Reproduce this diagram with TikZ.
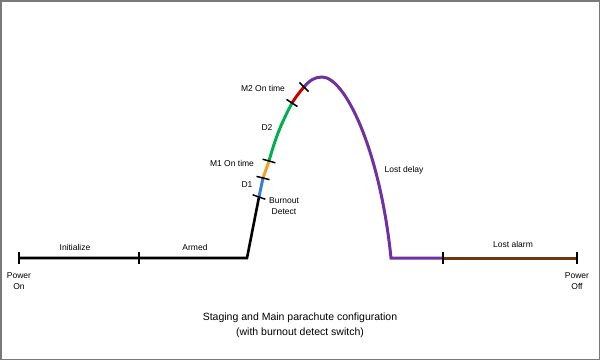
\documentclass[tikz,border=0pt]{standalone}
\usepackage{fontspec}
\setmainfont{Liberation Sans}
\begin{document}
\begin{tikzpicture}[x=1pt,y=-1pt,
  lbl/.style={inner sep=0pt,align=center,font=\fontsize{8.5}{11}\selectfont},
  ttl/.style={inner sep=0pt,align=center,font=\fontsize{10.5}{15}\selectfont},
  seg/.style={line width=3pt,line cap=butt},
  tick/.style={line width=1.5pt,black}]
\useasboundingbox (0,0) rectangle (600,360);
\draw[line width=1.5pt,gray!95!black] (0.75,0.75) rectangle (599.25,359.25);
\definecolor{cblue}{HTML}{3A7FD5}
\definecolor{corange}{HTML}{F5A020}
\definecolor{cgreen}{HTML}{00B050}
\definecolor{cred}{HTML}{D00000}
\definecolor{cpurple}{HTML}{7030A0}
\definecolor{cbrown}{HTML}{6B3A10}
% points
\coordinate (on) at (19,258);
\coordinate (arm) at (139,258);
\coordinate (lift) at (247,258);
\coordinate (bo) at (259,197);
\coordinate (d1) at (263,178);
\coordinate (m1) at (269,161);
\coordinate (d2) at (292,103);
\coordinate (m2) at (304,87);
\coordinate (pk) at (322,77);
\coordinate (ld) at (391,258);
\coordinate (la) at (443,258);
\coordinate (off) at (577,258);
% segments
\draw[seg,black,line width=2.6pt] (on) -- (arm) -- (lift) -- (bo);
\draw[seg,cblue] (bo) -- (d1);
\draw[seg,corange] (d1) -- (m1);
\draw[seg,cgreen] (m1) to[bend left=6] (d2);
\draw[seg,cred] (d2) to[bend left=4] (m2);
\draw[seg,cpurple] (m2) .. controls (310,80) and (315,77) .. (pk)
  .. controls (345,77) and (380,150) .. (ld) -- (la);
\draw[seg,cbrown] (la) -- (off);
% ticks
\foreach \p in {on,arm,la,off}{
  \draw[tick] (\p) ++(0,-6) -- ++(0,12);}
\draw[tick] (bo) ++(-6.3,-2.2) -- ++(12.6,4.4);
\draw[tick] (d1) ++(-6.5,-1.6) -- ++(13,3.2);
\draw[tick] (m1) ++(-6.4,-1.8) -- ++(12.8,3.6);
\draw[tick] (d2) ++(-5.5,-3.6) -- ++(11,7.2);
\draw[tick] (m2) ++(-4.6,-4.6) -- ++(9.2,9.2);
% labels
\node[lbl] (tinit) at (75,247) {Initialize};
\node[lbl] (tarm) at (195,247) {Armed};
\node[lbl] (ton) at (19,281) {Power\\On};
\node[lbl] (toff) at (577,281) {Power\\Off};
\node[lbl] (tbo) at (284,206.5) {Burnout\\Detect};
\node[lbl] (td1) at (247,185) {D1};
\node[lbl] (tm1) at (232,163) {M1 On time};
\node[lbl] (td2) at (267,128) {D2};
\node[lbl] (tm2) at (263,88) {M2 On time};
\node[lbl] (tld) at (404,170) {Lost delay};
\node[lbl] (tla) at (513,244) {Lost alarm};
\node[ttl] (title) at (300,325.5) {Staging and Main parachute configuration\\(with burnout detect switch)};
\end{tikzpicture}
\end{document}
